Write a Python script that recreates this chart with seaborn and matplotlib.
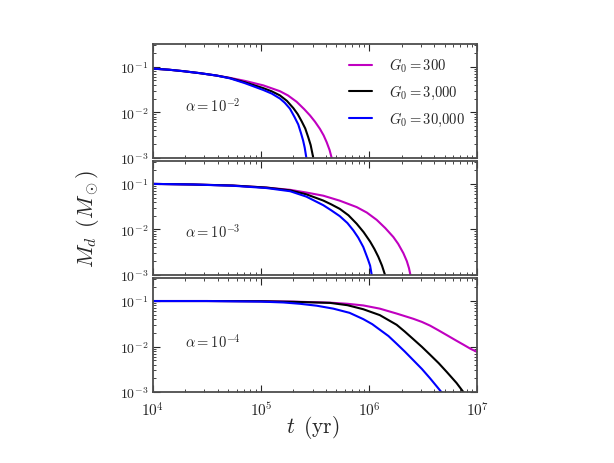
import numpy as np
import pandas as pd
import matplotlib
matplotlib.use('Agg')
import matplotlib.pyplot as plt
import matplotlib.ticker as ticker
import seaborn as sns

# G0 values (legend) and colours
g0_labels = [r'$G_0=300$', r'$G_0=3{,}000$', r'$G_0=30{,}000$']
g0_colors = ['#c000c0', 'black', 'blue']
alpha_labels = [r'$\alpha=10^{-2}$', r'$\alpha=10^{-3}$', r'$\alpha=10^{-4}$']

# log10(t / yr) and M_d (M_sun)
# alpha = 1e-2
a2_t_m = [4.0, 4.15, 4.28, 4.44, 4.59, 4.713, 4.85, 5.021, 5.176, 5.25, 5.33, 5.40, 5.454, 5.50, 5.546, 5.58, 5.608, 5.635, 5.654, 5.665]
a2_m_m = [0.091, 0.086, 0.080, 0.072, 0.064, 0.057, 0.049, 0.039, 0.029, 0.0234, 0.017, 0.0117, 0.0085, 0.0062, 0.0043, 0.0031, 0.0022, 0.00148, 0.0010, 0.00063]
a2_t_k = [4.0, 4.15, 4.28, 4.44, 4.59, 4.713, 4.85, 5.021, 5.10, 5.176, 5.24, 5.30, 5.34, 5.377, 5.41, 5.438, 5.46, 5.484, 5.495]
a2_m_k = [0.091, 0.086, 0.080, 0.072, 0.064, 0.0563, 0.0457, 0.0339, 0.0288, 0.0234, 0.0178, 0.0123, 0.0091, 0.0063, 0.0044, 0.0028, 0.0019, 0.0010, 0.00063]
a2_t_b = [4.0, 4.15, 4.28, 4.44, 4.59, 4.713, 4.85, 5.021, 5.10, 5.176, 5.22, 5.268, 5.31, 5.345, 5.37, 5.39, 5.405, 5.42, 5.43]
a2_m_b = [0.091, 0.086, 0.080, 0.072, 0.064, 0.0556, 0.0437, 0.0309, 0.0257, 0.0200, 0.0162, 0.0120, 0.0079, 0.0054, 0.0035, 0.0024, 0.00166, 0.0010, 0.00063]

# alpha = 1e-3
a3_t_m = [4.0, 4.37, 4.74, 5.05, 5.27, 5.42, 5.577, 5.73, 5.886, 5.98, 6.071, 6.15, 6.225, 6.27, 6.318, 6.35, 6.37, 6.383, 6.39]
a3_m_m = [0.100, 0.097, 0.092, 0.083, 0.074, 0.0646, 0.055, 0.0427, 0.0309, 0.0234, 0.0162, 0.0107, 0.0068, 0.0048, 0.0030, 0.0020, 0.0014, 0.0010, 0.00063]
a3_t_k = [4.0, 4.37, 4.74, 5.05, 5.27, 5.42, 5.577, 5.65, 5.73, 5.81, 5.886, 5.95, 6.01, 6.05, 6.086, 6.12, 6.148, 6.16]
a3_m_k = [0.100, 0.097, 0.092, 0.083, 0.072, 0.059, 0.043, 0.0355, 0.0282, 0.0204, 0.0133, 0.0087, 0.0054, 0.0037, 0.0025, 0.0016, 0.0010, 0.00063]
a3_t_b = [4.0, 4.37, 4.74, 5.05, 5.27, 5.42, 5.577, 5.65, 5.73, 5.80, 5.855, 5.90, 5.947, 5.99, 6.01, 6.025, 6.035]
a3_m_b = [0.100, 0.097, 0.091, 0.081, 0.069, 0.0525, 0.034, 0.0263, 0.0195, 0.0138, 0.0095, 0.0066, 0.0041, 0.0022, 0.0016, 0.0010, 0.00063]

# alpha = 1e-4
a4_t_m = [4.0, 4.5, 5.0, 5.3, 5.64, 5.80, 5.947, 6.10, 6.256, 6.41, 6.49, 6.565, 6.64, 6.72, 6.80, 6.873, 6.94, 7.0]
a4_m_m = [0.100, 0.100, 0.099, 0.097, 0.092, 0.087, 0.080, 0.068, 0.053, 0.0407, 0.0347, 0.0288, 0.0229, 0.0178, 0.0138, 0.0110, 0.0089, 0.0076]
a4_t_k = [4.0, 4.5, 5.0, 5.3, 5.64, 5.80, 5.947, 6.10, 6.256, 6.33, 6.41, 6.49, 6.565, 6.645, 6.72, 6.81, 6.873, 6.90]
a4_m_k = [0.100, 0.100, 0.099, 0.096, 0.091, 0.081, 0.066, 0.049, 0.030, 0.0214, 0.0145, 0.0098, 0.0066, 0.0043, 0.00275, 0.00158, 0.0010, 0.0008]
a4_t_b = [4.0, 4.5, 5.0, 5.207, 5.36, 5.515, 5.67, 5.82, 5.947, 6.03, 6.10, 6.18, 6.256, 6.33, 6.41, 6.49, 6.565, 6.63, 6.69, 6.70]
a4_m_b = [0.100, 0.100, 0.097, 0.093, 0.087, 0.079, 0.068, 0.055, 0.040, 0.031, 0.0234, 0.017, 0.0115, 0.0078, 0.0050, 0.0032, 0.0020, 0.0013, 0.00087, 0.00079]

panels = [
    [(a2_t_m, a2_m_m), (a2_t_k, a2_m_k), (a2_t_b, a2_m_b)],
    [(a3_t_m, a3_m_m), (a3_t_k, a3_m_k), (a3_t_b, a3_m_b)],
    [(a4_t_m, a4_m_m), (a4_t_k, a4_m_k), (a4_t_b, a4_m_b)],
]
alpha_text_y = [0.47, 0.39, 0.45]

ytick_vals = [1e-3, 1e-2, 1e-1]
ytick_labels = [r'$10^{-3}$', r'$10^{-2}$', r'$10^{-1}$']
xtick_vals = [1e4, 1e5, 1e6, 1e7]
xtick_labels = [r'$10^{4}$', r'$10^{5}$', r'$10^{6}$', r'$10^{7}$']

sns.set_style('ticks')
plt.rcParams['mathtext.fontset'] = 'cm'
plt.rcParams['font.family'] = ['DejaVu Serif']
plt.rcParams['xtick.direction'] = 'in'
plt.rcParams['ytick.direction'] = 'in'

fig, axes = plt.subplots(3, 1, figsize=(6.14, 4.64), dpi=100, sharex=True)
fig.subplots_adjust(left=0.249, right=0.777, top=0.903, bottom=0.153, hspace=0.03)

for i, ax in enumerate(axes):
    rows = []
    for j, (lt, m) in enumerate(panels[i]):
        for a, b in zip(lt, m):
            rows.append({'t': 10 ** a, 'M': b, 'G0': g0_labels[j]})
    df = pd.DataFrame(rows)
    sns.lineplot(data=df, x='t', y='M', hue='G0', hue_order=g0_labels,
                 palette=g0_colors, estimator=None, sort=False, lw=1.5, ax=ax,
                 legend=(i == 0))
    ax.set_xscale('log')
    ax.set_yscale('log')
    ax.set_xlim(1e4, 1e7)
    ax.set_ylim(1e-3, 10 ** -0.5)
    ax.set_yticks(ytick_vals)
    ax.yaxis.set_major_formatter(ticker.FixedFormatter(ytick_labels))
    ax.yaxis.set_minor_locator(ticker.LogLocator(subs=np.arange(2, 10)))
    ax.yaxis.set_minor_formatter(ticker.NullFormatter())
    ax.xaxis.set_minor_locator(ticker.LogLocator(subs=np.arange(2, 10)))
    ax.tick_params(which='both', top=True, right=True, labelsize=10)
    ax.tick_params(which='major', length=5)
    ax.tick_params(which='minor', length=2.5)
    ax.set_xlabel('')
    ax.set_ylabel('')
    for s in ax.spines.values():
        s.set_linewidth(1.3)
        s.set_color('0.3')
    ax.text(0.1, alpha_text_y[i], alpha_labels[i], transform=ax.transAxes,
            fontsize=10.5, va='center')
    if i == 0:
        ax.legend(frameon=False, loc='upper right', fontsize=10.5,
                  handlelength=1.6, handletextpad=1.2, borderaxespad=0.4,
                  labelspacing=0.6, title=None)

axes[-1].set_xticks(xtick_vals)
axes[-1].xaxis.set_major_formatter(ticker.FixedFormatter(xtick_labels))
axes[-1].xaxis.set_minor_formatter(ticker.NullFormatter())
axes[-1].tick_params(axis='x', pad=6, labelsize=11)

fig.text(0.51, 0.078, r'$t\ \,(\mathrm{yr})$', ha='center', va='center', fontsize=15.5)
fig.text(0.143, 0.528, r'$M_d\ \,(M_\odot)$', ha='center', va='center',
         rotation=90, fontsize=16)

plt.savefig('out.png', dpi=100)
